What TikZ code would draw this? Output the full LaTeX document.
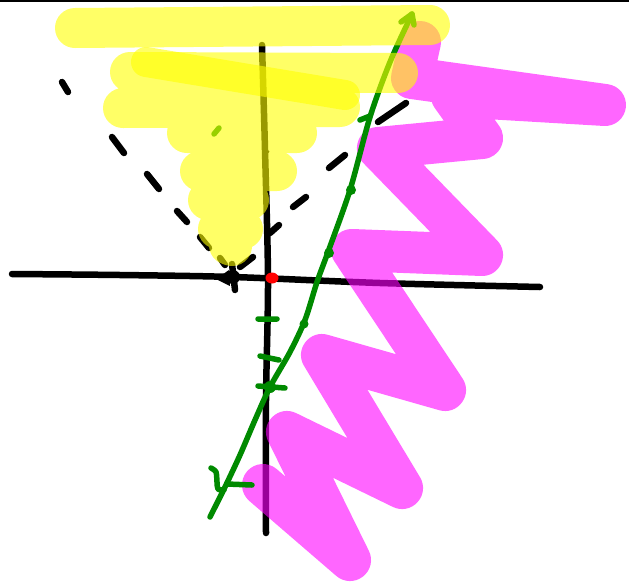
\documentclass[tikz,border=0pt]{standalone}
\usetikzlibrary{calc}
\definecolor{pengreen}{RGB}{0,138,0}
\definecolor{hlmag}{RGB}{255,0,255}
\definecolor{hlyel}{RGB}{255,255,0}

\begin{document}
\begin{tikzpicture}[x=1pt,y=-1pt,
    pen/.style={line width=5.5pt, line cap=round, line join=round},
    axisline/.style={pen, black, line width=6.5pt},
    dashseg/.style={pen, black, line width=6.5pt},
    greenpen/.style={pen, pengreen},
    hlpink/.style={line width=42pt, line cap=round, line join=round, hlmag, opacity=0.6},
    hlyellow/.style={line width=40pt, line cap=round, line join=round, hlyel, opacity=0.6}]
  \useasboundingbox (0,0) rectangle (629,584);
  % top edge
  \draw[line width=2.5pt] (0,1) -- (629,1);
  % axes
  \draw[axisline] plot[smooth] coordinates {(12,274) (120,275) (233,277) (380,283) (540,287)};
  \draw[axisline] plot[smooth] coordinates {(262,45) (265,150) (268,280) (266,400) (266,533)};
  \draw[line width=2pt] (263,149) -- (269,152);
  % pink scribble
  \draw[hlpink] (420,42) -- (412,78) -- (605,105) -- (452,96) -- (482,138) -- (378,148)
    -- (482,255) -- (352,250) -- (445,390) -- (322,355) -- (402,488) -- (287,432)
    -- (350,560) -- (263,485);
  % dashed V
  \draw[dashseg] (62,82) -- (68,92) (112,137) -- (124,153) (147,174) -- (159,189)
    (177,211) -- (187,222) (200,237) -- (209,248) (220,258) -- (225,265);
  \draw[dashseg] (240,267) -- (253,257) (270,233) -- (279,225) (293,207) -- (306,197)
    (329,168) -- (345,155) (378,122) -- (406,103);
  % origin marks
  \fill (233,277) circle (7pt);
  \fill (216,279) -- (229,270) -- (230,286) -- cycle;
  \draw[axisline] (232,264) -- (235,290);
  \fill[red] (272,278) ellipse (6.5pt and 5.5pt);
  % green line
  \coordinate (gtop) at (412,14);
  \coordinate (gbot) at (210,517);
  \draw[greenpen] plot[smooth] coordinates {(gbot) (225,487) (240,455) (255,420) (270,387)
    (290,352) (305,320) (317,282) (328,252) (350,190) (370,117) (390,62) (gtop)};
  \draw[greenpen] (401,22) -- (gtop) -- (414,25);
  \draw[greenpen] plot[smooth] coordinates {(211,468) (216,472) (217,482) (218,489) (224,490)};
  \draw[greenpen] (227,484) -- (252,485);
  % green ticks
  \draw[greenpen] (258,319) -- (277,319) (260,356) -- (279,360) (258,386) -- (285,388)
    (214,134) -- (219,128) (360,120) -- (370,116);
  \fill[pengreen] (270,387) circle (6pt) (351,190) circle (5pt) (329,253) circle (5pt)
    (304,324) circle (4.5pt);
  % yellow scribble
  \draw[hlyellow] (75,28) -- (430,25)
    (130,72) -- (398,73)
    (123,108) -- (340,107)
    (187,133) -- (297,133)
    (200,171) -- (277,171)
    (208,200) -- (249,200)
    (218,229) -- (243,229)
    (229,245) -- (232,246);
  \draw[hlyellow, line width=30pt] (146,62) -- (345,95);
\end{tikzpicture}
\end{document}
